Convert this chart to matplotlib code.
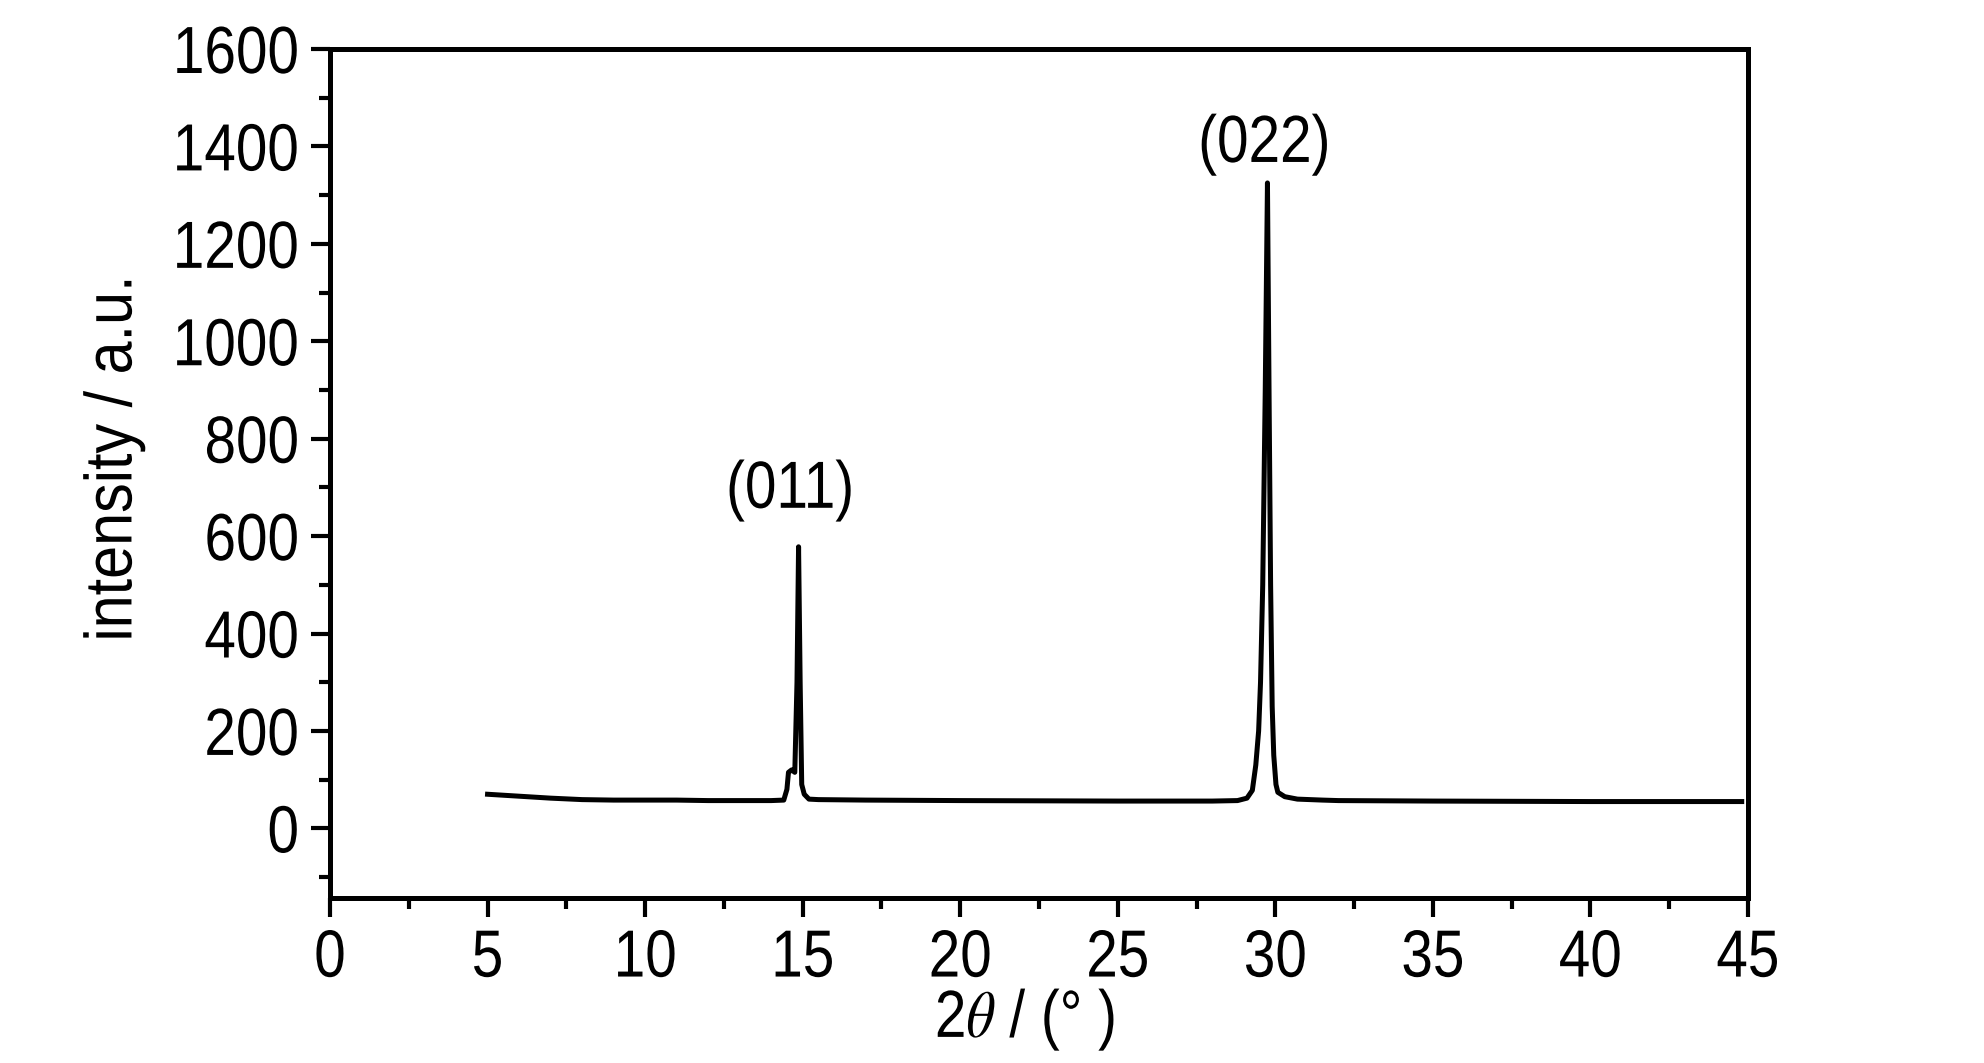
import matplotlib
matplotlib.use("Agg")
import matplotlib.pyplot as plt
from matplotlib.ticker import MultipleLocator
from matplotlib.patheffects import AbstractPathEffect
from matplotlib.transforms import Affine2D

two_theta = [5.0, 5.5, 6.0, 7.0, 8.0, 9.0, 10.0, 11.0, 12.0, 13.0, 14.0, 14.4,
             14.5, 14.55, 14.65, 14.75, 14.82, 14.87, 14.92, 14.97, 15.05, 15.2,
             15.5, 17.0, 20.0, 25.0, 28.0, 28.8, 29.1, 29.27, 29.38, 29.47, 29.53,
             29.6, 29.68, 29.75, 29.8, 29.85, 29.9, 29.95, 30.02, 30.08, 30.3,
             30.7, 31.5, 32.0, 35.0, 40.0, 44.8]
intensity = [70, 68, 66, 62, 59, 58, 58, 58, 57, 57, 57, 58,
             80, 115, 120, 115, 300, 578, 300, 90, 70, 60,
             59, 58, 57, 56, 56, 57, 62, 78, 130, 200, 300,
             500, 900, 1325, 900, 500, 250, 150, 90, 74, 65,
             60, 58, 57, 56, 55, 55]

peak_labels = ["(011)", "(022)"]
peak_label_x = [14.6, 29.65]
peak_label_y = [693, 1403]

x_major = 5
x_minor = 2.5
y_major = 200
y_minor = 100


class Narrow(AbstractPathEffect):
    """Squeeze glyphs horizontally (Arial-Narrow-like look)."""
    def __init__(self, sx=0.84, anchor='center'):
        super().__init__()
        self.sx = sx
        self.anchor = anchor

    def draw_path(self, renderer, gc, tpath, affine, rgbFace=None):
        ext = tpath.get_extents()
        if self.anchor == 'right':
            cx = ext.x1
        elif self.anchor == 'left':
            cx = ext.x0
        else:
            cx = 0.5 * (ext.x0 + ext.x1)
        t = Affine2D().translate(-cx, 0).scale(self.sx, 1).translate(cx, 0) + affine
        renderer.draw_path(gc, tpath, t, rgbFace)


plt.rcParams['font.family'] = ['Liberation Sans', 'DejaVu Sans']
plt.rcParams['mathtext.fontset'] = 'stix'
FS = 48

fig = plt.figure(figsize=(19.84, 10.63), dpi=100)
ax = fig.add_axes([330/1984, 1 - 898/1063, (1748-330)/1984, (898-49)/1063])

ax.plot(two_theta, intensity, color='black', lw=3.6, solid_joinstyle='round')

ax.set_xlim(0, 45)
ax.set_ylim(-143, 1600)
ax.xaxis.set_major_locator(MultipleLocator(x_major))
ax.xaxis.set_minor_locator(MultipleLocator(x_minor))
ax.yaxis.set_major_locator(MultipleLocator(y_major))
ax.yaxis.set_minor_locator(MultipleLocator(y_minor))
ax.set_yticks(list(range(0, 1601, y_major)))

for s in ax.spines.values():
    s.set_linewidth(3.6)
ax.tick_params(which='major', direction='out', length=14, width=3, pad=8, labelsize=FS)
ax.tick_params(which='minor', direction='out', length=8, width=3)
ax.tick_params(top=False, right=False, which='both')
for lab in ax.get_xticklabels():
    lab.set_path_effects([Narrow(0.85, 'center')])
for lab in ax.get_yticklabels():
    lab.set_path_effects([Narrow(0.85, 'right')])

for lab, lx, ly in zip(peak_labels, peak_label_x, peak_label_y):
    ax.text(lx, ly, lab, ha='center', va='center', fontsize=FS,
            path_effects=[Narrow(0.85, 'center')])

ax.set_ylabel('intensity / a.u.', fontsize=FS)
ax.yaxis.label.set_va('center')
ax.yaxis.label.set_path_effects([Narrow(0.89, 'center')])
ax.yaxis.set_label_coords(-0.152, 0.518)

ax.set_xlabel(r'2$\mathit{\theta}$ / (° )', fontsize=FS)
ax.xaxis.label.set_va('baseline')
ax.xaxis.label.set_path_effects([Narrow(0.85, 'center')])
ax.xaxis.set_label_coords(0.49, -0.164)

fig.savefig('out.png', dpi=100)
